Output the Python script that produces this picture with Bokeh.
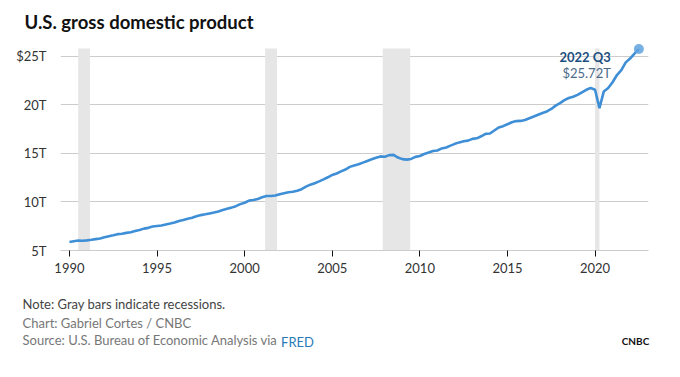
from bokeh.plotting import figure
from bokeh.models import Label, Range1d, FixedTicker, Title, LinearAxis
from bokeh.embed import file_html
from bokeh.resources import INLINE

# Quarterly nominal GDP, trillions of dollars, 1990 Q1 .. 2022 Q3
start_year = 1990
gdp = [
    5.87, 5.96, 6.02, 6.00,
    6.04, 6.10, 6.17, 6.23,
    6.36, 6.47, 6.57, 6.68,
    6.73, 6.81, 6.88, 7.01,
    7.12, 7.25, 7.33, 7.46,
    7.52, 7.58, 7.68, 7.77,
    7.87, 8.03, 8.13, 8.27,
    8.36, 8.52, 8.64, 8.72,
    8.81, 8.90, 9.02, 9.17,
    9.30, 9.41, 9.56, 9.77,
    9.91, 10.13, 10.19, 10.30,
    10.47, 10.60, 10.60, 10.66,
    10.78, 10.89, 10.99, 11.04,
    11.15, 11.31, 11.57, 11.77,
    11.92, 12.11, 12.31, 12.53,
    12.77, 12.92, 13.14, 13.33,
    13.60, 13.75, 13.87, 14.04,
    14.21, 14.38, 14.54, 14.68,
    14.65, 14.81, 14.84, 14.56,
    14.40, 14.35, 14.42, 14.63,
    14.72, 14.93, 15.08, 15.24,
    15.29, 15.50, 15.59, 15.79,
    15.97, 16.12, 16.23, 16.30,
    16.48, 16.54, 16.75, 17.00,
    17.03, 17.34, 17.65, 17.79,
    17.99, 18.19, 18.31, 18.33,
    18.43, 18.61, 18.78, 18.97,
    19.15, 19.30, 19.56, 19.90,
    20.16, 20.47, 20.69, 20.82,
    21.01, 21.27, 21.53, 21.71,
    21.54, 19.64, 21.36, 21.71,
    22.31, 23.05, 23.55, 24.35,
    24.74, 25.25, 25.72,
]
dates = [start_year + i / 4 for i in range(len(gdp))]

rec_start = [1990.5, 2001.17, 2007.88, 2020.0]
rec_end = [1991.17, 2001.85, 2009.45, 2020.25]
rec_top = 25.78

y_ticks = [5, 10, 15, 20, 25]
y_labels = {5: "5T", 10: "10T", 15: "15T", 20: "20T", 25: "$25T"}
x_ticks = [1990, 1995, 2000, 2005, 2010, 2015, 2020]

FONT = "Lato"

# frame: x 60..648, y 40..250 (canvas pixels)
FL, FR = 60, 648
X0, X1 = 1989.49, 2023.05
PX_PER_YEAR = (FR - FL) / (X1 - X0)

p = figure(frame_width=FR - FL, frame_height=210, output_backend="svg",
           toolbar_location=None,
           x_range=Range1d(X0, X1), y_range=Range1d(5, 26.6),
           min_border_left=FL, min_border_right=680 - FR, min_border_top=0,
           min_border_bottom=0)
p.outline_line_color = None
p.background_fill_color = "white"
p.border_fill_color = "white"

# title
p.title.text = "U.S. gross domestic product"
p.title.align = "left"
p.title.offset = -36
p.title.text_font = FONT
p.title.text_font_size = "18.5px"
p.title.text_color = "#111111"
p.title.standoff = 16

# recession bars
p.quad(left=rec_start, right=rec_end, bottom=5, top=rec_top,
       fill_color="#e6e6e6", line_color=None)

# axes
p.xaxis.ticker = FixedTicker(ticks=x_ticks)
p.yaxis.ticker = FixedTicker(ticks=y_ticks)
p.yaxis.major_label_overrides = y_labels
p.xaxis.axis_line_color = "#cccccc"
p.xaxis.major_tick_line_color = "#111111"
p.xaxis.major_tick_out = 6
p.xaxis.major_tick_in = 0
p.xaxis.minor_tick_line_color = None
p.xaxis.major_label_standoff = 6
p.yaxis.axis_line_color = None
p.yaxis.major_tick_line_color = None
p.yaxis.minor_tick_line_color = None
p.yaxis.major_label_standoff = 8
for ax in (p.xaxis[0], p.yaxis[0]):
    ax.major_label_text_font = FONT
    ax.major_label_text_font_size = "13px"
    ax.major_label_text_color = "#333333"
p.xgrid.grid_line_color = None
p.ygrid.grid_line_color = "#cccccc"
p.ygrid.grid_line_width = 1

# footers (titles below the x axis)
def footer(text, color, standoff):
    t = Title(text=text, align="left", offset=22 - FL, text_font=FONT,
              text_font_size="13px", text_font_style="normal", text_color=color,
              standoff=standoff)
    p.add_layout(t, "below")

footer(" ", "#ffffff", -2)
footer("Note: Gray bars indicate recessions.", "#444444", 5)
footer("Chart: Gabriel Cortes / CNBC", "#777777", -3)
footer("Source: U.S. Bureau of Economic Analysis via", "#777777", 0)

# extra label-only axes below, pulled up onto the source line
def label_axis(px, text, color, size, bold, standoff):
    xv = X0 + (px - FL) / PX_PER_YEAR
    ax = LinearAxis(ticker=FixedTicker(ticks=[xv]), major_label_overrides={xv: text},
                    axis_line_color=None, major_tick_line_color=None,
                    minor_tick_line_color=None, major_label_standoff=standoff,
                    major_label_text_font=FONT, major_label_text_font_size=size,
                    major_label_text_color=color,
                    major_label_text_font_style="bold" if bold else "normal")
    p.add_layout(ax, "below")

label_axis(297, "FRED", "#2a7ab9", "13px", False, -20)
label_axis(635, "CNBC", "#111111", "10px", True, -24)

p.line(dates, gdp, line_color="#3f8fd6", line_width=2.6)
p.scatter([dates[-1]], [gdp[-1]], size=10, fill_color="#5fa3df",
          line_color=None, fill_alpha=0.85)

# annotation of last point
p.add_layout(Label(x=dates[-1], y=gdp[-1], text="2022 Q3", x_offset=-28, y_offset=-8,
                   text_align="right", text_baseline="middle", text_font=FONT,
                   text_font_style="bold", text_font_size="13px", text_color="#1d4f80"))
p.add_layout(Label(x=dates[-1], y=gdp[-1], text="$25.72T", x_offset=-28, y_offset=-24,
                   text_align="right", text_baseline="middle", text_font=FONT,
                   text_font_size="13px", text_color="#4d6b8a"))

open("out.html", "w").write(file_html(p, INLINE))
